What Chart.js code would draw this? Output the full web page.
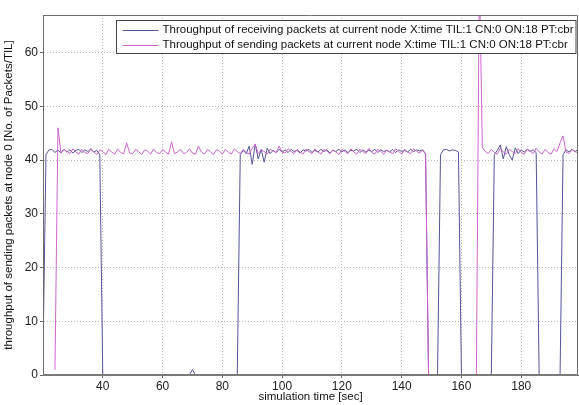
<!DOCTYPE html>
<html>
<head>
<meta charset="utf-8">
<script src="https://cdn.jsdelivr.net/npm/chart.js@4"></script>
<style>
  html, body { margin: 0; padding: 0; background: #fff; }
  canvas { display: block; }
</style>
</head>
<body>
<canvas id="throughput-node0" width="579" height="405"></canvas>
<script>
// simulation time (sec), one sample per TIL
const times = [
  20, 21, 22, 23, 24, 25, 26, 27, 28, 29, 30, 31, 32, 33, 34, 35, 36, 37, 38, 39,
  40, 41, 42, 43, 44, 45, 46, 47, 48, 49, 50, 51, 52, 53, 54, 55, 56, 57, 58, 59,
  60, 61, 62, 63, 64, 65, 66, 67, 68, 69, 70, 71, 72, 73, 74, 75, 76, 77, 78, 79,
  80, 81, 82, 83, 84, 85, 86, 87, 88, 89, 90, 91, 92, 93, 94, 95, 96, 97, 98, 99,
  100, 101, 102, 103, 104, 105, 106, 107, 108, 109, 110, 111, 112, 113, 114, 115, 116, 117, 118, 119,
  120, 121, 122, 123, 124, 125, 126, 127, 128, 129, 130, 131, 132, 133, 134, 135, 136, 137, 138, 139,
  140, 141, 142, 143, 144, 145, 146, 147, 148, 149, 150, 151, 152, 153, 154, 155, 156, 157, 158, 159,
  160, 161, 162, 163, 164, 165, 166, 167, 168, 169, 170, 171, 172, 173, 174, 175, 176, 177, 178, 179,
  180, 181, 182, 183, 184, 185, 186, 187, 188, 189, 190, 191, 192, 193, 194, 195, 196, 197, 198, 199
];

// receiving packets at current node
const receivingPackets = [
  4, 41, 41.9, 42, 41.4, 41.9, 41.3, 42, 41.5, 41.9, 41.3, 41.8, 42, 41.4, 41.9, 41.6, 42, 41.5, 41.8, 41,
  0, 0, 0, 0, 0, 0, 0, 0, 0, 0, 0, 0, 0, 0, 0, 0, 0, 0, 0, 0,
  0, 0, 0, 0, 0, 0, 0, 0, 0, 0, 1, 0, 0, 0, 0, 0, 0, 0, 0, 0,
  0, 0, 0, 0, 0, 0, 41, 41.8, 41.2, 42.6, 39.2, 43, 40.2, 42, 39.6, 42.2, 41.2, 41.8, 41.4, 42,
  41.5, 41.9, 41.4, 42, 41.6, 41.8, 41.3, 41.9, 41.7, 42, 41.4, 41.8, 41.5, 42, 41.6, 41.9, 41.3, 41.8, 41.6, 42,
  41.5, 41.9, 41.4, 41.8, 41.7, 42, 41.4, 41.9, 41.5, 41.8, 41.6, 42, 41.4, 41.9, 41.6, 41.8, 41.5, 42, 41.4, 41.9,
  41.6, 41.8, 41.5, 42, 41.6, 41.9, 41.7, 41.9, 41.2, 0, 0, 0, 0, 41, 41.9, 42, 41.7, 41.9, 41.8, 41.5,
  0, 0, 0, 0, 0, 0, 0, 0, 0, 0, 0, 41, 41.8, 42.8, 40.2, 42.5, 41, 40, 42.3, 41.2,
  41.9, 41.5, 42, 41.6, 41.9, 41.4, 0, 0, 0, 0, 0, 0, 0, 0, 41, 41.9, 41.5, 42, 41.6, 41.9
];

// sending packets at current node
const sendingPackets = [
  null, null, null, null, 1, 46, 41.3, 42, 41.6, 41.2, 42.1, 41.5, 41.1, 42, 41.4, 41.2, 42.2, 41.5, 41, 41.9,
  41.6, 41, 42, 41.5, 41.1, 42.1, 41.4, 41.2, 43.2, 41.3, 41.2, 42, 41.6, 41, 41.9, 41.7, 41.1, 42.1, 41.4, 41.2,
  42, 41.5, 41.1, 43.4, 41.2, 41.5, 42, 41.2, 41.4, 42.1, 41.3, 41.1, 42.6, 41.5, 41.1, 42, 41.6, 41, 41.9, 41.7,
  41.1, 42, 41.5, 41.1, 42.1, 41.6, 41.2, 42, 41.4, 41.1, 42.2, 43, 41.2, 41.9, 41.6, 41.1, 42, 41.7, 41.4, 42.6,
  41.5, 41.3, 42.1, 41.6, 41.2, 42, 41.5, 41.1, 42, 41.6, 41.2, 42.1, 41.5, 41.1, 42, 41.7, 41.2, 41.9, 41.5, 41,
  42, 41.6, 41.2, 42.1, 41.5, 41.1, 42, 41.6, 41.2, 42.2, 41.4, 41.1, 42, 41.6, 41.1, 41.9, 41.5, 41.2, 42.1, 41.6,
  41.1, 42, 41.5, 41.2, 42.1, 41.6, 41.3, 41.9, 41, 0, 0, 0, 0, 0, 0, 0, 0, 0, 0, 0,
  0, 0, 0, 0, 0, 0, 75, 42.3, 41.6, 41.2, 42, 41.4, 41.1, 42.2, 41.5, 41.1, 42, 41.6, 41.2, 42.1,
  41.4, 41.1, 42, 41.7, 41.2, 42.2, 41.5, 41.1, 42, 41.4, 41.1, 42.1, 41.6, 43.2, 44.5, 41.5, 41.2, 42, 41.6, 41.3
];

const yTicks = [0, 10, 20, 30, 40, 50, 60];
const xTicks = [40, 60, 80, 100, 120, 140, 160, 180];

const labelReceiving = "Throughput of receiving packets at current node X:time TIL:1 CN:0 ON:18 PT:cbr";
const labelSending = "Throughput of sending packets at current node X:time TIL:1 CN:0 ON:18 PT:cbr";

const fontFamily = "'Liberation Sans', Arial, sans-serif";

function toPoints(values) {
  return values.map((v, i) => ({ x: times[i], y: v }));
}

// kotak axis penuh (atas & kanan) seperti matlab
const boxPlugin = {
  id: "box",
  afterDatasetsDraw(chart) {
    const { ctx, chartArea: a } = chart;
    ctx.save();
    ctx.strokeStyle = "#6e6e6e";
    ctx.lineWidth = 1;
    const l = Math.round(a.left) + 0.5, t = Math.round(a.top) + 0.5;
    const r = Math.round(a.right) - 0.5;
    ctx.beginPath();
    ctx.moveTo(l, a.bottom);
    ctx.lineTo(l, t);
    ctx.lineTo(r, t);
    ctx.lineTo(r, a.bottom);
    ctx.stroke();
    // sumbu bawah menutup garis nol
    ctx.lineWidth = 2;
    ctx.strokeStyle = "#7a7a7a";
    ctx.beginPath();
    ctx.moveTo(a.left, a.bottom);
    ctx.lineTo(a.right, a.bottom);
    ctx.stroke();
    ctx.restore();
  }
};

// legend di dalam area plot, kanan atas
const insideLegend = {
  id: "insideLegend",
  afterDraw(chart) {
    const { ctx, chartArea: a } = chart;
    const boxX = a.left + 73.5, boxY = a.top + 5.5;
    const boxW = a.right - 2 - boxX, boxH = 33;
    ctx.save();
    ctx.fillStyle = "#fff";
    ctx.fillRect(boxX, boxY, boxW, boxH);
    ctx.strokeStyle = "#444";
    ctx.lineWidth = 1;
    ctx.strokeRect(boxX, boxY, boxW, boxH);
    ctx.font = "11.5px " + fontFamily;
    ctx.textBaseline = "middle";
    chart.data.datasets.forEach((ds, i) => {
      const y = boxY + 9.5 + i * 14.5;
      ctx.strokeStyle = ds.borderColor;
      ctx.beginPath();
      ctx.moveTo(boxX + 6, Math.round(y) + 0.5);
      ctx.lineTo(boxX + 42, Math.round(y) + 0.5);
      ctx.stroke();
      ctx.fillStyle = "#111";
      ctx.fillText(ds.label, boxX + 46, y);
    });
    ctx.restore();
  }
};

const dataThroughput = {
  datasets: [
    {
      label: labelReceiving,
      data: toPoints(receivingPackets),
      borderColor: "#55559a",
      borderWidth: 1,
      pointRadius: 0,
      tension: 0,
      order: 2,
    },
    {
      label: labelSending,
      data: toPoints(sendingPackets),
      borderColor: "#cc66cc",
      borderWidth: 1,
      pointRadius: 0,
      tension: 0,
      spanGaps: false,
      order: 1,
    },
  ],
};

const gridStyle = {
  color: "#b8b8b8",
  tickLength: 3,
  tickColor: "#666",
  tickBorderDash: [],
};

const borderStyle = {
  display: true,
  color: "#6e6e6e",
  dash: [1, 2],
};

const configThroughput = {
  type: "line",
  data: dataThroughput,
  options: {
    responsive: false,
    animation: false,
    devicePixelRatio: 1,
    layout: {
      padding: { top: 15, right: 1, left: 0, bottom: 0 },
    },
    scales: {
      x: {
        type: "linear",
        min: 20,
        max: 199,
        afterBuildTicks(scale) {
          scale.ticks = xTicks.map(v => ({ value: v }));
        },
        afterFit(scale) {
          scale.height = 30;
        },
        ticks: {
          color: "#222",
          font: { family: fontFamily, size: 12 },
          padding: 1,
          maxRotation: 0,
        },
        grid: gridStyle,
        border: borderStyle,
        title: {
          display: true,
          text: "simulation time [sec]",
          color: "#111",
          font: { family: fontFamily, size: 11.5 },
          padding: { top: 0, bottom: 1 },
        },
      },
      y: {
        min: 0,
        max: 67,
        afterBuildTicks(scale) {
          scale.ticks = yTicks.map(v => ({ value: v }));
        },
        afterFit(scale) {
          scale.width = 43;
        },
        ticks: {
          color: "#222",
          font: { family: fontFamily, size: 12 },
          padding: 2,
        },
        grid: gridStyle,
        border: borderStyle,
        title: {
          display: true,
          text: "throughput of sending packets at node 0 [No. of Packets/TIL]",
          color: "#111",
          font: { family: fontFamily, size: 11.5 },
          padding: { top: 2, bottom: 0 },
        },
      },
    },
    plugins: {
      legend: { display: false },
      tooltip: { enabled: false },
    },
  },
  plugins: [boxPlugin, insideLegend],
};

new Chart(document.getElementById("throughput-node0"), configThroughput);
</script>
</body>
</html>
